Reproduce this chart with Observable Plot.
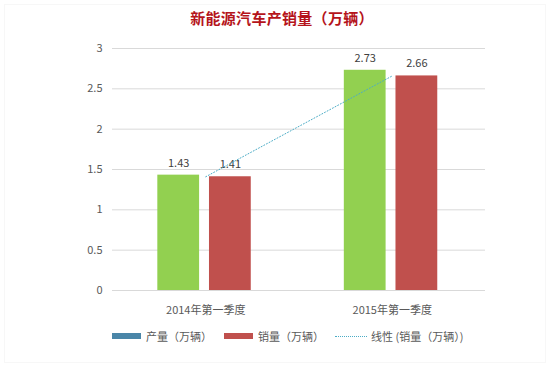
<!DOCTYPE html>
<html><head><meta charset="utf-8">
<script src="https://cdn.jsdelivr.net/npm/d3@7"></script>
<script src="https://cdn.jsdelivr.net/npm/@observablehq/plot@0.6"></script>
<style>
html,body{margin:0;padding:0;background:#fff;}
body{width:550px;height:367px;overflow:hidden;font-family:"Noto Sans CJK SC","Noto Sans",sans-serif;position:relative;}
#frame{position:absolute;left:4px;top:4px;width:540px;height:357px;border:1px solid #f7f7f7;}
#title{position:absolute;left:0;top:7px;width:564px;text-align:center;font-size:15px;font-weight:bold;color:#B5141B;letter-spacing:0.3px;}
#chart{position:absolute;left:0;top:40px;}
#legend{position:absolute;top:328px;left:0;width:550px;font-size:11px;color:#595959;}
.li{position:absolute;display:flex;align-items:center;height:16px;}
.sw{display:inline-block;width:29px;height:6px;margin-right:5px;}
.dl{display:inline-block;width:32px;border-top:1px dotted #4BACC6;margin-right:4px;}
</style></head>
<body>
<div id="frame"></div>
<div id="title">新能源汽车产销量（万辆）</div>
<div id="chart"></div>
<div id="legend"></div>
<script>
const categories = ["2014年第一季度", "2015年第一季度"];
const production = [1.43, 2.73];
const sales = [1.41, 2.66];
const seriesNames = ["产量（万辆）", "销量（万辆）"];
const trendName = "线性 (销量（万辆）)";
const yTicks = [0, 0.5, 1, 1.5, 2, 2.5, 3];

const green = "#92D050", red = "#C0504D", legendBlue = "#4A86A8", trendColor = "#4BACC6";

const rows = [];
categories.forEach((c, i) => {
  rows.push({i, cat: c, s: seriesNames[0], v: production[i], off: -0.145});
  rows.push({i, cat: c, s: seriesNames[1], v: sales[i], off: 0.132});
});
const halfW = 0.112;
const trend = categories.map((c, i) => ({i, v: sales[i]}));

const chart = Plot.plot({
  width: 550,
  height: 282,
  marginLeft: 112,
  marginRight: 65,
  marginTop: 8,
  marginBottom: 32,
  style: {fontFamily: '"Noto Sans CJK SC","Noto Sans",sans-serif', fontSize: "11px", color: "#595959"},
  x: {domain: [-0.5, 1.5], axis: null},
  y: {domain: [0, 3], axis: null},
  marks: [
    Plot.ruleY(yTicks, {stroke: "#D9D9D9", strokeWidth: 1}),
    Plot.text(yTicks, {x: -0.5, y: d => d, text: d => String(d), textAnchor: "end", dx: -10, fill: "#595959", fontSize: 11}),
    Plot.rectY(rows, {x1: d => d.i + d.off - halfW, x2: d => d.i + d.off + halfW, y1: 0, y2: "v", fill: d => d.s === seriesNames[0] ? green : red}),
    Plot.text(rows, {x: d => d.i + d.off, y: "v", text: d => d.v.toFixed(2), dy: -12, fill: "#404040", fontSize: 11}),
    Plot.line(trend, {x: "i", y: "v", stroke: trendColor, strokeWidth: 1, strokeDasharray: "1,2"}),
    Plot.text(categories, {x: (d, i) => i, y: 0, text: d => d, dy: 20, fill: "#595959", fontSize: 11})
  ]
});
document.getElementById("chart").appendChild(chart);

const legend = document.getElementById("legend");
const items = [
  {x: 112, html: `<span class="sw" style="background:${legendBlue}"></span>${seriesNames[0]}`},
  {x: 224, html: `<span class="sw" style="background:${red}"></span>${seriesNames[1]}`},
  {x: 335, html: `<span class="dl"></span>${trendName}`}
];
items.forEach(it => {
  const d = document.createElement("div");
  d.className = "li";
  d.style.left = it.x + "px";
  d.innerHTML = it.html;
  legend.appendChild(d);
});
</script>
</body></html>
